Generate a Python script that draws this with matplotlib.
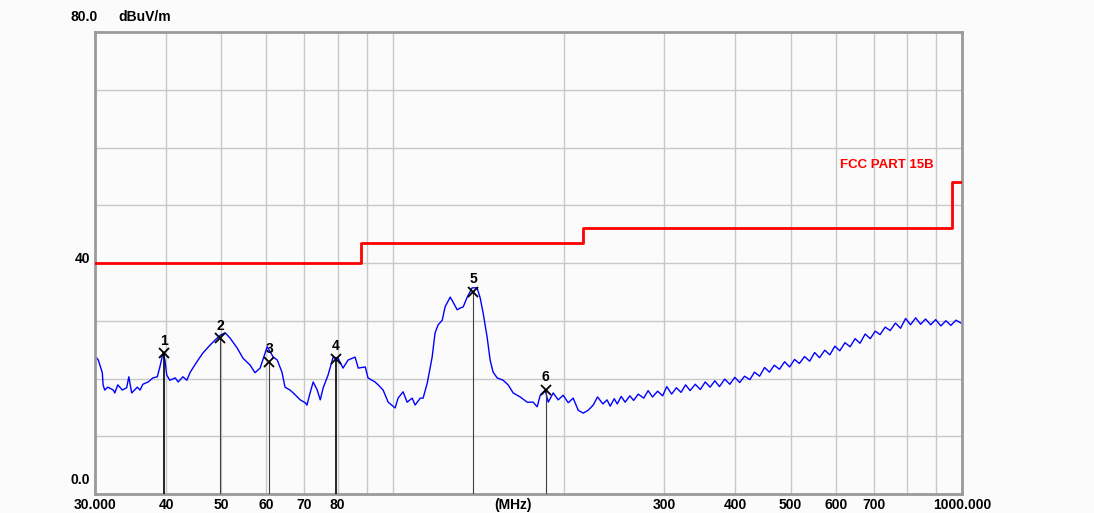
import matplotlib
matplotlib.use("Agg")
from matplotlib import pyplot as plt
from matplotlib.ticker import NullLocator

plt.rcParams['font.family'] = ['Liberation Sans', 'DejaVu Sans']

# measured trace (MHz, dBuV/m)
freq_mhz = [30.0, 30.4, 30.9, 31.0, 31.2, 31.6, 32.3, 32.5, 32.9, 33.5, 34.1, 34.4, 34.8, 35.6, 36.0,
            36.4, 37.2, 37.9, 38.6, 39.0, 39.5, 39.8, 40.1, 40.6, 41.5, 42.0, 42.8, 43.5, 44.1, 45.3,
            46.4, 47.8, 48.8, 49.8, 50.8, 51.8, 53.3, 54.6, 56.2, 57.3, 58.5,
            60.2, 61.7, 62.7, 63.9, 64.7, 66.0, 66.9, 68.8, 70.2, 70.7, 71.6, 72.5, 73.7, 74.6, 75.5,
            77.0, 78.6, 80.2, 81.8, 83.5, 85.9, 87.0, 89.5, 90.5, 93.1, 94.3, 96.2, 98.2, 101.0, 102.2,
            104.3, 106.0, 108.2, 109.5, 111.8, 113.1,
            115.0, 117.3, 118.7, 120.2, 122.2, 123.6, 126.2, 127.7, 129.8, 131.4, 133.0, 135.2, 137.9,
            140.7, 142.5, 144.2, 146.5, 148.3, 150.1, 152.6, 156.3, 159.5, 162.8, 167.5, 172.3, 176.5,
            179.4, 181.6, 185.3, 187.6, 191.4, 195.3, 199.3, 203.4, 207.5, 211.8, 216.1, 220.5,
            225, 229, 234, 238, 241, 245, 248, 252, 256, 261, 265, 270, 276, 281, 286, 292, 298,
            303, 309, 315, 321, 327, 333, 340, 347, 354, 361, 368, 375, 383, 391, 399, 407, 415,
            424, 432, 441, 450, 459, 468, 478, 488, 498, 508, 518, 529, 540, 551, 562, 574, 586,
            598, 610, 623, 636, 649, 662, 676, 690, 704, 718, 733, 748, 764, 780, 796, 812, 829,
            846, 863, 881, 899, 918, 937, 956, 976, 1000]
level_dbuv = [23.9, 23.2, 21.0, 18.9, 18.0, 18.5, 18.0, 17.5, 18.9, 18.0, 18.4, 20.3, 17.5, 18.5, 18.0,
              19.0, 19.4, 20.1, 20.3, 22.0, 24.4, 23.2, 20.6, 19.7, 20.1, 19.4, 20.3, 19.7, 21.1, 22.9,
              24.4, 25.8, 26.7, 27.5, 27.9, 27.0, 25.3, 23.5, 22.3, 21.0, 21.8,
              25.5, 23.7, 23.2, 21.1, 18.5, 18.0, 17.5, 16.3, 15.8, 15.4, 17.5, 19.4, 18.0, 16.3, 18.4,
              20.6, 23.7, 23.5, 21.8, 23.2, 23.7, 21.8, 22.0, 20.1, 19.4, 18.9, 18.0, 15.9, 14.9, 16.6,
              17.7, 15.9, 16.6, 15.4, 16.6, 16.6,
              19.2, 23.7, 27.9, 29.3, 30.1, 32.4, 34.1, 33.2, 31.9, 32.2, 32.4, 34.1, 35.7,
              35.7, 33.9, 31.3, 27.2, 23.2, 21.1, 20.1, 19.7, 18.9, 17.5, 16.8, 15.9, 15.9,
              15.1, 17.1, 18.0, 15.9, 17.5, 16.3, 17.1, 15.8, 16.6, 14.5, 14.0, 14.5,
              15.4, 16.8, 15.6, 16.3, 15.2, 16.5, 15.6, 16.9, 15.9, 17.0, 16.2, 17.3, 16.6, 17.9, 16.8, 17.8, 17.0,
              18.6, 17.3, 18.4, 17.6, 18.9, 17.9, 19.0, 18.1, 19.4, 18.5, 19.6, 18.6, 19.9, 19.0, 20.2, 19.3, 20.4,
              19.8, 21.1, 20.4, 21.9, 21.1, 22.3, 21.6, 22.9, 22.0, 23.3, 22.6, 23.8, 23.0, 24.5, 23.6, 24.9, 24.1,
              25.6, 24.8, 26.2, 25.5, 26.9, 26.1, 27.7, 26.9, 28.2, 27.6, 28.9, 28.3, 29.6, 28.7, 30.4, 29.3, 30.5,
              29.4, 30.3, 29.3, 30.2, 29.1, 30.0, 29.2, 30.1, 29.5]

# FCC part 15B class B limit
limit_freq = [30, 88, 216, 960, 1000]
limit_level = [40, 43.5, 46, 54, 54]

# markers
mk_freq = [39.6, 49.8, 60.7, 79.4, 138.5, 185.7]
mk_level = [24.4, 27.0, 22.9, 23.4, 35.0, 18.0]
mk_names = ['1', '2', '3', '4', '5', '6']

grid_freq = [40, 50, 60, 70, 80, 90, 100, 200, 300, 400, 500, 600, 700, 800, 900]
grid_level = [10, 20, 30, 40, 50, 60, 70]
tick_freq = [30, 40, 50, 60, 70, 80, 162.6, 300, 400, 500, 600, 700, 1000]
tick_labels = ['30.000', '40', '50', '60', '70', '80', '(MHz)', '300', '400', '500', '600', '700', '1000.000']

fig = plt.figure(figsize=(10.94, 5.13), dpi=100)
fig.patch.set_facecolor('#fbfbfb')
ax = fig.add_axes([95 / 1094, 19 / 513, 867 / 1094, 462 / 513])
ax.set_facecolor('#fbfbfb')
ax.set_xscale('log')
ax.set_xlim(30, 1000)
ax.set_ylim(0, 80)

for g in grid_freq:
    ax.axvline(g, color='#c8c8c8', lw=1, zorder=0)
for g in grid_level:
    ax.axhline(g, color='#c8c8c8', lw=1, zorder=0)

ax.plot(limit_freq, limit_level, color='#ff0000', lw=2, drawstyle='steps-post', zorder=3)
ax.text(611, 57.0, 'FCC PART 15B', color='#ff0000', fontsize=9.5, fontweight='bold',
        va='center', ha='left')

ax.plot(freq_mhz, level_dbuv, color='#0000ff', lw=1.0, zorder=2)

# marker lines, crosses and numbers
for i in range(len(mk_freq)):
    heavy = i in (0, 3)
    ax.vlines(mk_freq[i], 0, mk_level[i], colors='black' if heavy else '#404040',
              lw=1.2 if heavy else 0.8, zorder=4)
    ax.plot(mk_freq[i], mk_level[i], marker='x', color='black', ms=7, mew=1.3, zorder=5)
    ax.annotate(mk_names[i], (mk_freq[i], mk_level[i]), xytext=(0, 4), textcoords='offset points',
                ha='center', va='bottom', fontsize=10, fontweight='bold', zorder=6)

ax.xaxis.set_minor_locator(NullLocator())
ax.set_xticks(tick_freq, tick_labels)
ax.set_yticks([])
ax.tick_params(axis='x', length=0, pad=3, labelsize=10)
for lab in ax.get_xticklabels():
    lab.set_fontweight('bold')

for s in ax.spines.values():
    s.set_color('#9a9a9a')
    s.set_linewidth(2)

ytr = ax.get_yaxis_transform()
ax.text(-0.006, 40.7, '40', transform=ytr, ha='right', va='center', fontsize=10, fontweight='bold')
ax.text(-0.006, 2.4, '0.0', transform=ytr, ha='right', va='center', fontsize=10, fontweight='bold')
fig.text(98 / 1094, 0.966, '80.0', ha='right', va='center', fontsize=10, fontweight='bold')
fig.text(118 / 1094, 0.966, 'dBuV/m', ha='left', va='center', fontsize=10, fontweight='bold')

plt.savefig('out.png', dpi=100, facecolor=fig.get_facecolor())
